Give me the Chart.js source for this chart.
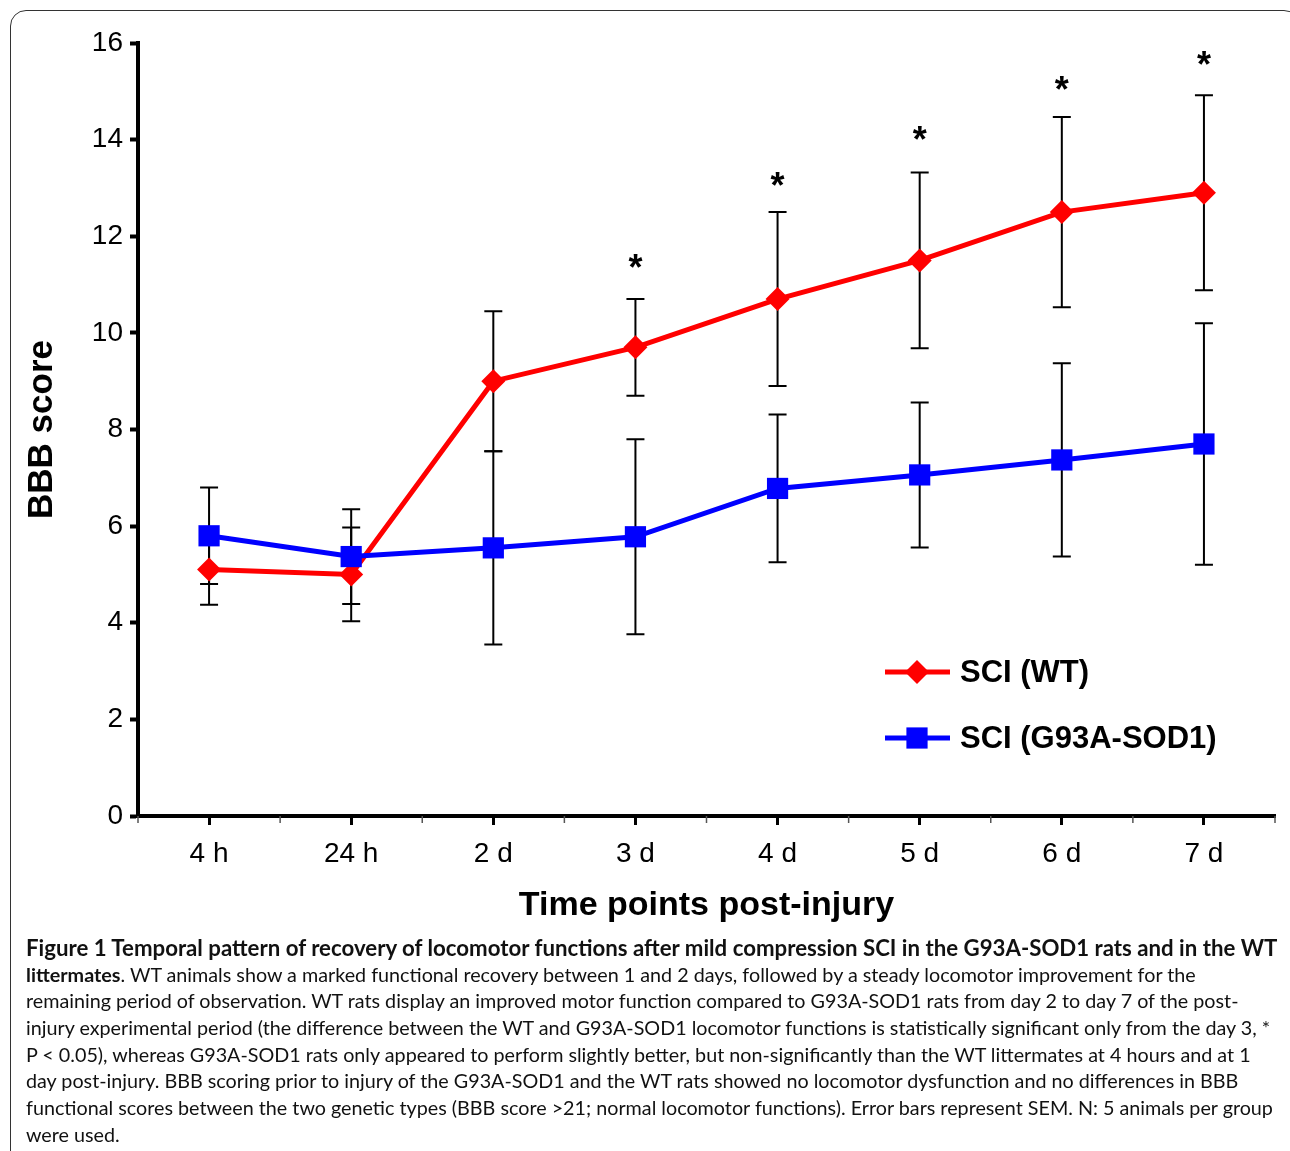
<!DOCTYPE html>
<html>
<head>
<meta charset="utf-8">
<script src="https://cdn.jsdelivr.net/npm/chart.js@4.4.0/dist/chart.umd.min.js"></script>
<style>
  html, body { margin: 0; padding: 0; background: #fff; }
  body { width: 1290px; height: 1151px; position: relative; overflow: hidden; }
  #frame {
    position: absolute; left: 10px; top: 10px; width: 1290px; height: 1300px;
    border: 1px solid #333; border-radius: 16px; box-sizing: border-box;
  }
  #wrap { position: absolute; left: 0; top: 0; width: 1290px; height: 935px; }
  #caption {
    position: absolute; left: 26px; top: 935px; width: 1260px;
    font-family: Lato, "Open Sans", sans-serif; font-size: 18px; color: #111;
  }
  #caption div { white-space: nowrap; height: 26.7px; line-height: 26.7px; }
</style>
</head>
<body>
<div id="frame"></div>
<div id="wrap"><canvas id="chart"></canvas></div>
<div id="caption">
  <div id="capHead"><b>Figure 1 Temporal pattern of recovery of locomotor functions after mild compression SCI in the G93A-SOD1 rats and in the WT</b></div>
  <div class="plain"><b>littermates</b>. WT animals show a marked functional recovery between 1 and 2 days, followed by a steady locomotor improvement for the</div>
  <div class="plain">remaining period of observation. WT rats display an improved motor function compared to G93A-SOD1 rats from day 2 to day 7 of the post-</div>
  <div class="plain">injury experimental period (the difference between the WT and G93A-SOD1 locomotor functions is statistically significant only from the day 3, *</div>
  <div class="plain">P &lt; 0.05), whereas G93A-SOD1 rats only appeared to perform slightly better, but non-significantly than the WT littermates at 4 hours and at 1</div>
  <div class="plain">day post-injury. BBB scoring prior to injury of the G93A-SOD1 and the WT rats showed no locomotor dysfunction and no differences in BBB</div>
  <div class="plain" id="capLong">functional scores between the two genetic types (BBB score &gt;21; normal locomotor functions). Error bars represent SEM. N: 5 animals per group</div>
  <div class="plain">were used.</div>
</div>
<script>
// ---------- data ----------
const timePoints = ["4 h", "24 h", "2 d", "3 d", "4 d", "5 d", "6 d", "7 d"];
const wtMean  = [5.1, 5.0, 9.0, 9.7, 10.7, 11.5, 12.5, 12.9];
const wtSem   = [0.73, 0.97, 1.45, 1.0, 1.8, 1.82, 1.97, 2.02];
const sodMean = [5.8, 5.37, 5.55, 5.78, 6.78, 7.06, 7.37, 7.7];
const sodSem  = [1.0, 0.98, 2.0, 2.02, 1.53, 1.5, 2.0, 2.5];
const starLevel = [null, null, null, 11.5, 13.2, 14.15, 15.2, 15.7]; // "*" marks
const yTicks = [0, 2, 4, 6, 8, 10, 12, 14, 16];

const FONT = "'Liberation Sans', Arial, Helvetica, sans-serif";

// ------------------- error bars, stars, legend -------------------
const extras = {
  id: "extras",
  beforeDatasetsDraw(chart) {
    const { ctx, scales: { x, y } } = chart;
    ctx.save();
    ctx.strokeStyle = "#000";
    ctx.lineWidth = 2;
    chart.data.datasets.forEach(ds => {
      ds.data.forEach((v, i) => {
        const px = x.getPixelForValue(i);
        const top = y.getPixelForValue(v + ds.sem[i]);
        const bot = y.getPixelForValue(v - ds.sem[i]);
        ctx.beginPath();
        ctx.moveTo(px, top); ctx.lineTo(px, bot);
        ctx.moveTo(px - 9, top); ctx.lineTo(px + 9, top);
        ctx.moveTo(px - 9, bot); ctx.lineTo(px + 9, bot);
        ctx.stroke();
      });
    });
    // minor ticks at category boundaries
    ctx.lineWidth = 1.5;
    ctx.strokeStyle = "#555";
    const b = chart.chartArea.bottom;
    for (let i = 0; i <= timePoints.length; i++) {
      const px = x.getPixelForValue(i - 0.5);
      ctx.beginPath();
      ctx.moveTo(px, b); ctx.lineTo(px, b + 7);
      ctx.stroke();
    }
    ctx.restore();
  },
  afterDatasetsDraw(chart) {
    const { ctx, chartArea, scales: { x, y } } = chart;
    ctx.save();
    // significance stars
    ctx.fillStyle = "#000";
    ctx.font = "bold 36px " + FONT;
    ctx.textAlign = "center";
    ctx.textBaseline = "alphabetic";
    starLevel.forEach((s, i) => {
      if (s == null) return;
      ctx.fillText("*", x.getPixelForValue(i), y.getPixelForValue(s) + 20);
    });
    // legend
    const lx = chartArea.left + 747;
    let ly = chartArea.top + 629;
    chart.data.datasets.forEach(ds => {
      ctx.strokeStyle = ds.borderColor;
      ctx.lineWidth = 5;
      ctx.beginPath();
      ctx.moveTo(lx, ly); ctx.lineTo(lx + 65, ly);
      ctx.stroke();
      ctx.fillStyle = ds.backgroundColor;
      Chart.helpers.drawPoint(ctx, { pointStyle: ds.pointStyle, radius: ds.pointRadius, rotation: 0, borderWidth: 0 }, lx + 32, ly);
      ctx.fillStyle = "#000";
      ctx.font = "bold 31px " + FONT;
      ctx.textAlign = "left";
      ctx.textBaseline = "middle";
      ctx.fillText(ds.label, lx + 75, ly + 1);
      ly += 66;
    });
    ctx.restore();
  }
};

new Chart(document.getElementById("chart"), {
  type: "line",
  data: {
    labels: timePoints,
    datasets: [
      {
        label: "SCI (WT)",
        data: wtMean,
        sem: wtSem,
        borderColor: "#ff0000",
        backgroundColor: "#ff0000",
        borderWidth: 5,
        pointStyle: "rectRot",
        pointRadius: 12,
        pointBorderWidth: 0,
        order: 2
      },
      {
        label: "SCI (G93A-SOD1)",
        data: sodMean,
        sem: sodSem,
        borderColor: "#0000ff",
        backgroundColor: "#0000ff",
        borderWidth: 5,
        pointStyle: "rect",
        pointRadius: 15,
        pointBorderWidth: 0,
        order: 1
      }
    ]
  },
  options: {
    responsive: true,
    maintainAspectRatio: false,
    animation: false,
    layout: { padding: { top: 43, right: 14, left: 0, bottom: 0 } },
    plugins: { legend: { display: false }, tooltip: { enabled: false } },
    scales: {
      x: {
        offset: true,
        grid: { display: true, drawOnChartArea: false, offset: false, drawTicks: true, tickLength: 9, tickWidth: 3, tickColor: "#000" },
        border: { display: true, color: "#000", width: 4 },
        ticks: { color: "#000", font: { family: FONT, size: 28 }, padding: 12, maxRotation: 0 },
        title: { display: true, text: "Time points post-injury", color: "#000", font: { family: FONT, size: 34, weight: "bold" }, padding: { top: 0, bottom: 9 } },
        afterFit(scale) { scale.height = 119; }
      },
      y: {
        min: 0, max: 16,
        afterBuildTicks(scale) { scale.ticks = yTicks.map(v => ({ value: v })); },
        grid: { display: true, drawOnChartArea: false, drawTicks: true, tickLength: 8, tickWidth: 4, tickColor: "#000" },
        border: { display: true, color: "#000", width: 4 },
        ticks: { color: "#000", font: { family: FONT, size: 28 }, padding: 7 },
        title: { display: true, text: "BBB score", color: "#000", font: { family: FONT, size: 35, weight: "bold" }, padding: { top: 21, bottom: 21 } },
        afterFit(scale) { scale.width = 138; }
      }
    }
  },
  plugins: [extras]
});

// fit caption lines to the widths in the figure
function fitLine(el, target) {
  const w = el.scrollWidth;
  const fs = parseFloat(getComputedStyle(el).fontSize);
  el.style.fontSize = (fs * target / w) + "px";
}
const head = document.getElementById("capHead");
head.style.display = "inline-block";
fitLine(head, 1252);
head.style.display = "block";
const longLine = document.getElementById("capLong");
longLine.style.display = "inline-block";
fitLine(longLine, 1247);
const plainSize = longLine.style.fontSize;
longLine.style.display = "block";
document.querySelectorAll("#caption .plain").forEach(d => d.style.fontSize = plainSize);
</script>
</body>
</html>
